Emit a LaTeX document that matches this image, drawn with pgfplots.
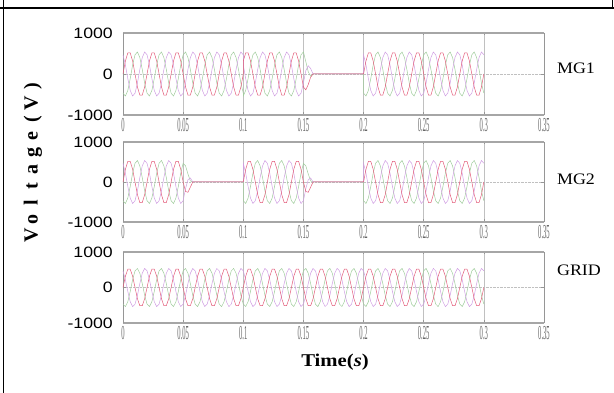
\documentclass[border=0pt]{standalone}
\usepackage{fontspec}
\setmainfont{Liberation Serif}
\newfontfamily\arial{Liberation Sans}
\usepackage{pgfplots}
\pgfplotsset{compat=1.18}
\usepackage{pgfplotstable}

\definecolor{phA}{RGB}{226,92,122}
\definecolor{phB}{RGB}{160,204,156}
\definecolor{phC}{RGB}{208,158,226}
\definecolor{framegray}{RGB}{150,150,150}

% three-phase voltages, 50 Hz, sampled every 2 ms
% columns: time, GRID (ga gb gc), MG1 (ma mb mc), MG2 (na nb nc)
\pgfplotstableread{
t ga gb gc ma mb mc na nb nc
0.000 0 -468 468 0 -468 468 0 -468 468
0.002 317 -537 220 317 -537 220 317 -537 220
0.004 514 -401 -112 514 -401 -112 514 -401 -112
0.006 514 -112 -401 514 -112 -401 514 -112 -401
0.008 317 220 -537 317 220 -537 317 220 -537
0.010 0 468 -468 0 468 -468 0 468 -468
0.012 -317 537 -220 -317 537 -220 -317 537 -220
0.014 -514 401 112 -514 401 112 -514 401 112
0.016 -514 112 401 -514 112 401 -514 112 401
0.018 -317 -220 537 -317 -220 537 -317 -220 537
0.020 0 -468 468 0 -468 468 0 -468 468
0.022 317 -537 220 317 -537 220 317 -537 220
0.024 514 -401 -112 514 -401 -112 514 -401 -112
0.026 514 -112 -401 514 -112 -401 514 -112 -401
0.028 317 220 -537 317 220 -537 317 220 -537
0.030 0 468 -468 0 468 -468 0 468 -468
0.032 -317 537 -220 -317 537 -220 -317 537 -220
0.034 -514 401 112 -514 401 112 -514 401 112
0.036 -514 112 401 -514 112 401 -514 112 401
0.038 -317 -220 537 -317 -220 537 -317 -220 537
0.040 0 -468 468 0 -468 468 0 -468 468
0.042 317 -537 220 317 -537 220 317 -537 220
0.044 514 -401 -112 514 -401 -112 514 -401 -112
0.046 514 -112 -401 514 -112 -401 514 -112 -401
0.048 317 220 -537 317 220 -537 317 220 -537
0.050 0 468 -468 0 468 -468 0 468 -468
0.052 -317 537 -220 -317 537 -220 -238 403 -165
0.054 -514 401 112 -514 401 112 -257 201 56
0.056 -514 112 401 -514 112 401 -129 28 100
0.058 -317 -220 537 -317 -220 537 0 0 0
0.060 0 -468 468 0 -468 468 0 0 0
0.062 317 -537 220 317 -537 220 0 0 0
0.064 514 -401 -112 514 -401 -112 0 0 0
0.066 514 -112 -401 514 -112 -401 0 0 0
0.068 317 220 -537 317 220 -537 0 0 0
0.070 0 468 -468 0 468 -468 0 0 0
0.072 -317 537 -220 -317 537 -220 0 0 0
0.074 -514 401 112 -514 401 112 0 0 0
0.076 -514 112 401 -514 112 401 0 0 0
0.078 -317 -220 537 -317 -220 537 0 0 0
0.080 0 -468 468 0 -468 468 0 0 0
0.082 317 -537 220 317 -537 220 0 0 0
0.084 514 -401 -112 514 -401 -112 0 0 0
0.086 514 -112 -401 514 -112 -401 0 0 0
0.088 317 220 -537 317 220 -537 0 0 0
0.090 0 468 -468 0 468 -468 0 0 0
0.092 -317 537 -220 -317 537 -220 0 0 0
0.094 -514 401 112 -514 401 112 0 0 0
0.096 -514 112 401 -514 112 401 0 0 0
0.098 -317 -220 537 -317 -220 537 0 0 0
0.100 0 -468 468 0 -468 468 0 0 0
0.100 0 -468 468 317 -537 220 0 -468 468
0.102 317 -537 220 514 -401 -112 317 -537 220
0.104 514 -401 -112 514 -112 -401 514 -401 -112
0.106 514 -112 -401 317 220 -537 514 -112 -401
0.108 317 220 -537 0 468 -468 317 220 -537
0.110 0 468 -468 -317 537 -220 0 468 -468
0.112 -317 537 -220 -514 401 112 -317 537 -220
0.114 -514 401 112 -514 112 401 -514 401 112
0.116 -514 112 401 -317 -220 537 -514 112 401
0.118 -317 -220 537 0 -468 468 -317 -220 537
0.120 0 -468 468 317 -537 220 0 -468 468
0.122 317 -537 220 514 -401 -112 317 -537 220
0.124 514 -401 -112 514 -112 -401 514 -401 -112
0.126 514 -112 -401 317 220 -537 514 -112 -401
0.128 317 220 -537 0 468 -468 317 220 -537
0.130 0 468 -468 -317 537 -220 0 468 -468
0.132 -317 537 -220 -514 401 112 -317 537 -220
0.134 -514 401 112 -514 112 401 -514 401 112
0.136 -514 112 401 -317 -220 537 -514 112 401
0.138 -317 -220 537 0 -468 468 -317 -220 537
0.140 0 -468 468 317 -537 220 0 -468 468
0.142 317 -537 220 514 -401 -112 317 -537 220
0.144 514 -401 -112 514 -112 -401 514 -401 -112
0.146 514 -112 -401 317 220 -537 514 -112 -401
0.148 317 220 -537 0 468 -468 317 220 -537
0.150 0 468 -468 -317 537 -220 0 468 -468
0.152 -317 537 -220 -386 301 84 -238 403 -165
0.154 -514 401 112 -257 56 201 -257 201 56
0.156 -514 112 401 -79 -55 134 -129 28 100
0.158 -317 -220 537 0 0 0 0 0 0
0.160 0 -468 468 0 0 0 0 0 0
0.162 317 -537 220 0 0 0 0 0 0
0.164 514 -401 -112 0 0 0 0 0 0
0.166 514 -112 -401 0 0 0 0 0 0
0.168 317 220 -537 0 0 0 0 0 0
0.170 0 468 -468 0 0 0 0 0 0
0.172 -317 537 -220 0 0 0 0 0 0
0.174 -514 401 112 0 0 0 0 0 0
0.176 -514 112 401 0 0 0 0 0 0
0.178 -317 -220 537 0 0 0 0 0 0
0.180 0 -468 468 0 0 0 0 0 0
0.182 317 -537 220 0 0 0 0 0 0
0.184 514 -401 -112 0 0 0 0 0 0
0.186 514 -112 -401 0 0 0 0 0 0
0.188 317 220 -537 0 0 0 0 0 0
0.190 0 468 -468 0 0 0 0 0 0
0.192 -317 537 -220 0 0 0 0 0 0
0.194 -514 401 112 0 0 0 0 0 0
0.196 -514 112 401 0 0 0 0 0 0
0.198 -317 -220 537 0 0 0 0 0 0
0.200 0 -468 468 0 0 0 0 0 0
0.200 0 -468 468 0 -468 468 0 -468 468
0.202 317 -537 220 317 -537 220 317 -537 220
0.204 514 -401 -112 514 -401 -112 514 -401 -112
0.206 514 -112 -401 514 -112 -401 514 -112 -401
0.208 317 220 -537 317 220 -537 317 220 -537
0.210 0 468 -468 0 468 -468 0 468 -468
0.212 -317 537 -220 -317 537 -220 -317 537 -220
0.214 -514 401 112 -514 401 112 -514 401 112
0.216 -514 112 401 -514 112 401 -514 112 401
0.218 -317 -220 537 -317 -220 537 -317 -220 537
0.220 0 -468 468 0 -468 468 0 -468 468
0.222 317 -537 220 317 -537 220 317 -537 220
0.224 514 -401 -112 514 -401 -112 514 -401 -112
0.226 514 -112 -401 514 -112 -401 514 -112 -401
0.228 317 220 -537 317 220 -537 317 220 -537
0.230 0 468 -468 0 468 -468 0 468 -468
0.232 -317 537 -220 -317 537 -220 -317 537 -220
0.234 -514 401 112 -514 401 112 -514 401 112
0.236 -514 112 401 -514 112 401 -514 112 401
0.238 -317 -220 537 -317 -220 537 -317 -220 537
0.240 0 -468 468 0 -468 468 0 -468 468
0.242 317 -537 220 317 -537 220 317 -537 220
0.244 514 -401 -112 514 -401 -112 514 -401 -112
0.246 514 -112 -401 514 -112 -401 514 -112 -401
0.248 317 220 -537 317 220 -537 317 220 -537
0.250 0 468 -468 0 468 -468 0 468 -468
0.252 -317 537 -220 -317 537 -220 -317 537 -220
0.254 -514 401 112 -514 401 112 -514 401 112
0.256 -514 112 401 -514 112 401 -514 112 401
0.258 -317 -220 537 -317 -220 537 -317 -220 537
0.260 0 -468 468 0 -468 468 0 -468 468
0.262 317 -537 220 317 -537 220 317 -537 220
0.264 514 -401 -112 514 -401 -112 514 -401 -112
0.266 514 -112 -401 514 -112 -401 514 -112 -401
0.268 317 220 -537 317 220 -537 317 220 -537
0.270 0 468 -468 0 468 -468 0 468 -468
0.272 -317 537 -220 -317 537 -220 -317 537 -220
0.274 -514 401 112 -514 401 112 -514 401 112
0.276 -514 112 401 -514 112 401 -514 112 401
0.278 -317 -220 537 -317 -220 537 -317 -220 537
0.280 0 -468 468 0 -468 468 0 -468 468
0.282 317 -537 220 317 -537 220 317 -537 220
0.284 514 -401 -112 514 -401 -112 514 -401 -112
0.286 514 -112 -401 514 -112 -401 514 -112 -401
0.288 317 220 -537 317 220 -537 317 220 -537
0.290 0 468 -468 0 468 -468 0 468 -468
0.292 -317 537 -220 -317 537 -220 -317 537 -220
0.294 -514 401 112 -514 401 112 -514 401 112
0.296 -514 112 401 -514 112 401 -514 112 401
0.298 -317 -220 537 -317 -220 537 -317 -220 537
0.300 0 -468 468 0 -468 468 0 -468 468
}\volts

\newcommand\xl[1]{\scalebox{0.55}[1.65]{#1}}
\newcommand\yl[1]{\scalebox{1.18}[1]{#1}}
\newcommand\lc[1]{\makebox[16.6pt]{#1}}

\pgfplotsset{
  panel/.style={
    scale only axis, width=421pt,
    xmin=0, xmax=0.35, ymin=-1000, ymax=1000,
    xtick={0,0.05,0.1,0.15,0.2,0.25,0.3,0.35},
    xticklabels={\xl{0},\xl{0.05},\xl{0.1},\xl{0.15},\xl{0.2},\xl{0.25},\xl{0.3},\xl{0.35}},
    ytick={-1000,0,1000},
    yticklabels={\yl{-1000},\yl{0},\yl{1000}},
    xticklabel style={font=\fontsize{12}{12}\selectfont, text=black!60, inner sep=0pt, anchor=north},
    xticklabel shift=3pt,
    yticklabel style={font=\arial\fontsize{15}{15}\selectfont, inner sep=0pt, anchor=east},
    yticklabel shift=10pt,
    separate axis lines,
    x axis line style={line width=1.8pt, draw=framegray!85},
    y axis line style={line width=0.6pt, draw=framegray},
    tick style={draw=framegray, line width=0.5pt},
    major tick length=2.5pt,
    xmajorgrids, x grid style={draw=framegray!60, line width=0.5pt},
    ymajorgrids, y grid style={draw=framegray!60, densely dotted, line width=0.4pt},
  },
  phase/.style={line width=0.5pt, mark=none},
}

\begin{document}
\begin{tikzpicture}
\path[use as bounding box] (0,0) rectangle (614pt,393pt);

% MG1
\begin{axis}[panel, at={(123pt,278pt)}, anchor=south west, height=82pt]
  \addplot[phase, phB] table[x=t, y=mb] {\volts};
  \addplot[phase, phC] table[x=t, y=mc] {\volts};
  \addplot[phase, phA] table[x=t, y=ma] {\volts};
\end{axis}

% MG2
\begin{axis}[panel, at={(123pt,171pt)}, anchor=south west, height=80pt]
  \addplot[phase, phB] table[x=t, y=nb] {\volts};
  \addplot[phase, phC] table[x=t, y=nc] {\volts};
  \addplot[phase, phA] table[x=t, y=na] {\volts};
\end{axis}

% GRID
\begin{axis}[panel, at={(123pt,70pt)}, anchor=south west, height=71pt]
  \addplot[phase, phB] table[x=t, y=gb] {\volts};
  \addplot[phase, phC] table[x=t, y=gc] {\volts};
  \addplot[phase, phA] table[x=t, y=ga] {\volts};
\end{axis}

\node[font=\fontsize{16}{16}\selectfont] at (576pt,325pt) {\scalebox{1.12}[1]{MG1}};
\node[font=\fontsize{16}{16}\selectfont] at (576pt,214pt) {\scalebox{1.12}[1]{MG2}};
\node[font=\fontsize{16}{16}\selectfont] at (579pt,123pt) {\scalebox{1.12}[1]{GRID}};

\node[font=\bfseries\fontsize{20}{20}\selectfont, rotate=90, inner sep=0pt] at (33pt,232pt)
  {\lc{V}\lc{o}\lc{l}\lc{t}\lc{a}\lc{g}\lc{e}\lc{(}\lc{V}\lc{)}};
\node[font=\bfseries\fontsize{18}{18}\selectfont] at (335pt,31pt)
  {\scalebox{1.15}[1]{Time(\textit{s})}};

% cell border
\draw[line width=2pt] (0,384.5pt) -- (614pt,384.5pt);
\draw[line width=1.5pt] (3.3pt,0) -- (3.3pt,393pt);
\draw[line width=1.5pt] (612.5pt,384.5pt) -- (612.5pt,393pt);
\end{tikzpicture}
\end{document}
